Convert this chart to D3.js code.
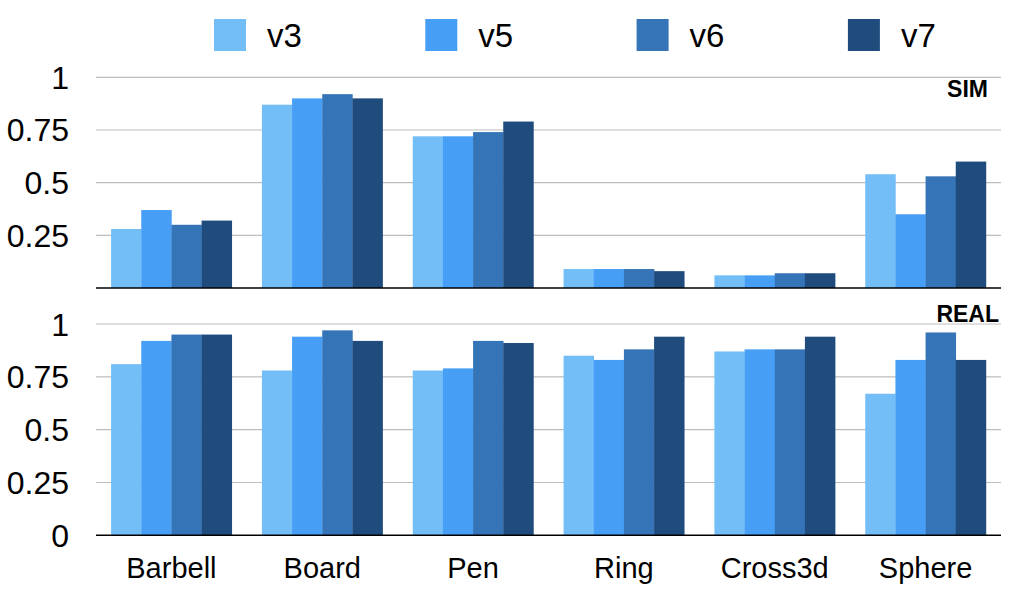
<!DOCTYPE html>
<html>
<head>
<meta charset="utf-8">
<script src="https://cdn.jsdelivr.net/npm/d3@7"></script>
<style>
  body { margin: 0; background: #fff; }
  text { font-family: "Liberation Sans", Arial, Helvetica, sans-serif; fill: #000; }
</style>
</head>
<body>
<div class="chart"></div>
<script>
// data
const categories = ["Barbell", "Board", "Pen", "Ring", "Cross3d", "Sphere"];
const series = ["v3", "v5", "v6", "v7"];
const simValues = {
  v3: [0.28, 0.87, 0.72, 0.09, 0.06, 0.54],
  v5: [0.37, 0.90, 0.72, 0.09, 0.06, 0.35],
  v6: [0.30, 0.92, 0.74, 0.09, 0.07, 0.53],
  v7: [0.32, 0.90, 0.79, 0.08, 0.07, 0.60]
};
const realValues = {
  v3: [0.81, 0.78, 0.78, 0.85, 0.87, 0.67],
  v5: [0.92, 0.94, 0.79, 0.83, 0.88, 0.83],
  v6: [0.95, 0.97, 0.92, 0.88, 0.88, 0.96],
  v7: [0.95, 0.92, 0.91, 0.94, 0.94, 0.83]
};
const topTicks = [0.25, 0.5, 0.75, 1];
const topTickLabels = ["0.25", "0.5", "0.75", "1"];
const bottomTicks = [0, 0.25, 0.5, 0.75, 1];
const bottomTickLabels = ["0", "0.25", "0.5", "0.75", "1"];

//dimensions
const SIZE = {X: 1014, Y: 595};
const PLOT = {LEFT: 96, RIGHT: 1001};
const COLORS = {v3: "#74bef8", v5: "#479ff5", v6: "#3574b6", v7: "#1f4c7d"};

const svg = d3.select(".chart").append("svg")
    .attr("width", SIZE.X)
    .attr("height", SIZE.Y);

//scales
const x = d3.scaleBand()
    .domain(categories)
    .range([PLOT.LEFT, PLOT.RIGHT])
    .paddingInner(0.2)
    .paddingOuter(0.1);

const xSeries = d3.scaleBand()
    .domain(series)
    .range([0, x.bandwidth()]);

const color = d3.scaleOrdinal()
    .domain(series)
    .range(series.map(s => COLORS[s]));

//draw one panel
function panel(values, y, ticks, tickLabels, title, titleX, titleY) {
  const g = svg.append("g");

  //gridlines
  g.selectAll(".grid")
    .data(ticks.filter(t => t > 0))
    .enter().append("line")
    .attr("x1", PLOT.LEFT).attr("x2", PLOT.RIGHT)
    .attr("y1", d => y(d)).attr("y2", d => y(d))
    .attr("stroke", "#bdbdbd")
    .attr("stroke-width", 1.2);

  //tick labels
  g.selectAll(".tick")
    .data(ticks)
    .enter().append("text")
    .attr("x", 69)
    .attr("y", d => y(d))
    .attr("dy", "0.36em")
    .attr("text-anchor", "end")
    .attr("font-size", 32)
    .text((d, i) => tickLabels[i]);

  //bars
  const groups = g.selectAll(".group")
    .data(categories)
    .enter().append("g")
    .attr("transform", d => `translate(${x(d)},0)`);

  groups.selectAll("rect")
    .data((c, i) => series.map(s => ({s, v: values[s][i]})))
    .enter().append("rect")
    .attr("x", d => xSeries(d.s))
    .attr("width", xSeries.bandwidth() + 0.3)
    .attr("y", d => y(d.v))
    .attr("height", d => y(0) - y(d.v))
    .attr("fill", d => color(d.s));

  //baseline
  g.append("line")
    .attr("x1", PLOT.LEFT).attr("x2", PLOT.RIGHT)
    .attr("y1", y(0)).attr("y2", y(0))
    .attr("stroke", "#000")
    .attr("stroke-width", 1.6);

  g.append("text")
    .attr("x", titleX)
    .attr("y", titleY)
    .attr("text-anchor", "end")
    .attr("font-size", 23)
    .attr("font-weight", "bold")
    .text(title);
}

const yTop = d3.scaleLinear().domain([0, 1]).range([288, 77.3]);
const yBottom = d3.scaleLinear().domain([0, 1]).range([535.3, 324]);

panel(simValues, yTop, topTicks, topTickLabels, "SIM", 988, 97);
panel(realValues, yBottom, bottomTicks, bottomTickLabels, "REAL", 999, 322);

//category labels
svg.selectAll(".cat")
  .data(categories)
  .enter().append("text")
  .attr("x", d => x(d) + x.bandwidth() / 2)
  .attr("y", 578)
  .attr("text-anchor", "middle")
  .attr("font-size", 29)
  .text(d => d);

//legend
const legend = svg.selectAll(".legend")
  .data(series)
  .enter().append("g")
  .attr("transform", (d, i) => `translate(${214 + i * 211.3}, 19)`);

legend.append("rect")
  .attr("width", 32)
  .attr("height", 32)
  .attr("fill", d => color(d));

legend.append("text")
  .attr("x", 53)
  .attr("y", 28)
  .attr("font-size", 33)
  .text(d => d);
</script>
</body>
</html>
